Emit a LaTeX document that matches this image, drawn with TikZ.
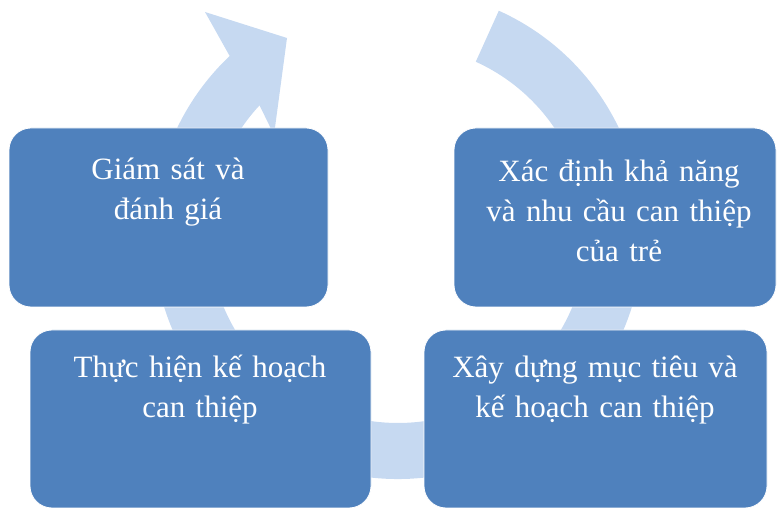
\documentclass[tikz,border=0pt]{standalone}
\usepackage{fontspec}
\setmainfont{Liberation Serif}
\definecolor{boxblue}{RGB}{79,129,189}
\definecolor{ringblue}{RGB}{198,217,241}
\tikzset{
  stagebox/.style={draw=white, line width=0.8pt, fill=boxblue, rounded corners=22pt, inner sep=0pt},
  stagetext/.style={text=white, anchor=base, align=center, text width=330pt, inner sep=0pt,
    font=\fontsize{31pt}{40pt}\selectfont},
  ring/.style={fill=ringblue}
}
\begin{document}
\begin{tikzpicture}[x=1pt,y=1pt]
\useasboundingbox (0,0) rectangle (777,509);
% circular arrow
\begin{scope}[shift={(398,275)}]
\fill[ring] (65.7:245pt) arc[start angle=65.7, end angle=-226.6, radius=245pt]
  -- (-193,222) -- (-111,196) -- (-124,99) -- (137.1:189pt)
  arc[start angle=-222.9, end angle=65.7, radius=189pt] -- cycle;
\end{scope}
% boxes
\node[stagebox, minimum width=319pt, minimum height=179pt] (b1) at (168.5,291.5) {};
\node[stagebox, minimum width=322pt, minimum height=179pt] (b2) at (615,291.5) {};
\node[stagebox, minimum width=341pt, minimum height=178pt] (b3) at (200.5,90) {};
\node[stagebox, minimum width=343pt, minimum height=178pt] (b4) at (595.5,90) {};
% texts
\node[stagetext] (t1) at (168,329) {Giám sát và\\đánh giá};
\node[stagetext] (t2) at (619,327) {Xác định khả năng\\và nhu cầu can thiệp\\của trẻ};
\node[stagetext] (t3) at (200,131) {Thực hiện kế hoạch\\can thiệp};
\node[stagetext] (t4) at (595,131) {Xây dựng mục tiêu và\\kế hoạch can thiệp};
\end{tikzpicture}
\end{document}
